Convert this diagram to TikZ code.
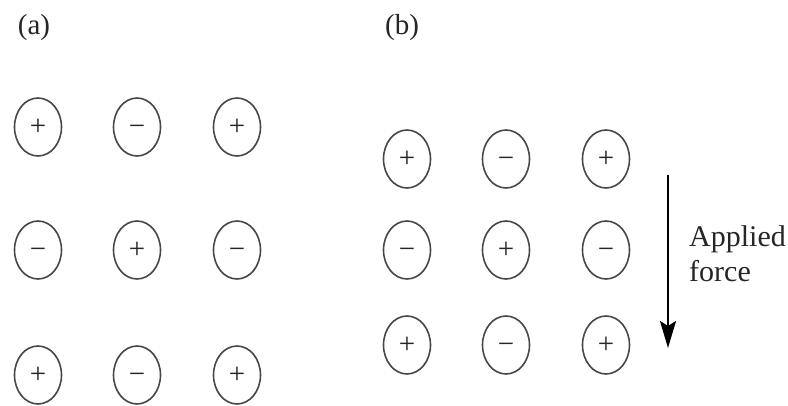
\documentclass[tikz,border=0pt]{standalone}
\usepackage{fontspec}
\setmainfont{Liberation Serif}
\usetikzlibrary{shapes.geometric,arrows.meta}
\begin{document}
\begin{tikzpicture}[x=1pt,y=-1pt,
  ion/.style={ellipse,draw=black!72,line width=1.6pt,inner sep=0pt,
    text height=16.2pt,text depth=0pt,
    minimum width=47pt,minimum height=58pt,font=\fontsize{29}{30}\selectfont,text=black!85},
  lbl/.style={font=\fontsize{29}{32}\selectfont,text=black!85},
  force/.style={-{Stealth[length=27pt,width=16pt,inset=5pt]},line width=2pt}]
\useasboundingbox[fill=white] (0,0) rectangle (788,406);
% panel (a)
\node[lbl] (la) at (34,28) {(a)};
\node[ion] (a11) at (38,127) {+};
\node[ion] (a12) at (137,127) {−};
\node[ion] (a13) at (237,127) {+};
\node[ion] (a21) at (38,250) {−};
\node[ion] (a22) at (137,250) {+};
\node[ion] (a23) at (237,250) {−};
\node[ion] (a31) at (38,375) {+};
\node[ion] (a32) at (137,375) {−};
\node[ion] (a33) at (237,375) {+};
% panel (b)
\node[lbl] (lb) at (402,28) {(b)};
\node[ion] (b11) at (407,159) {+};
\node[ion] (b12) at (506,159) {−};
\node[ion] (b13) at (606,159) {+};
\node[ion] (b21) at (407,250) {−};
\node[ion] (b22) at (506,250) {+};
\node[ion] (b23) at (606,250) {−};
\node[ion] (b31) at (407,345) {+};
\node[ion] (b32) at (506,345) {−};
\node[ion] (b33) at (606,345) {+};
% applied force
\coordinate (ftop) at (668,175);
\coordinate (fbot) at (668,348);
\draw[force] (ftop) -- (fbot);
\node[lbl,anchor=west,align=left,font=\fontsize{30}{35}\selectfont,inner sep=0pt] (ftext) at (689,254) {Applied\\force};
\end{tikzpicture}
\end{document}
